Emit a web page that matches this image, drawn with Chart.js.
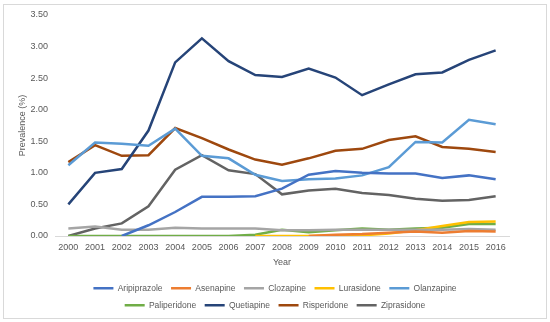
<!DOCTYPE html>
<html>
<head>
<meta charset="utf-8">
<script src="https://cdn.jsdelivr.net/npm/chart.js@4.4.1/dist/chart.umd.min.js"></script>
<style>
  html, body { margin: 0; padding: 0; background: #fff; }
  #wrap { position: relative; width: 550px; height: 322px; }
  #frame {
    position: absolute; left: 3px; top: 4px; width: 544px; height: 315px;
    border: 1px solid #d9d9d9; box-sizing: border-box; pointer-events: none;
  }
</style>
</head>
<body>
<div id="wrap">
  <canvas id="chart"></canvas>
  <div id="frame"></div>
</div>
<script>
const years = ["2000", "2001", "2002", "2003", "2004", "2005", "2006", "2007", "2008",
  "2009", "2010", "2011", "2012", "2013", "2014", "2015", "2016"];

// prevalence (%) per year, null = not on the market yet
const aripiprazole = [null, null, 0.00, 0.17, 0.38, 0.62, 0.62, 0.63, 0.75, 0.97, 1.03, 1.00, 0.99, 0.99, 0.92, 0.96, 0.90];
const asenapine = [null, null, null, null, null, null, null, null, null, 0.00, 0.02, 0.03, 0.05, 0.07, 0.05, 0.08, 0.07];
const clozapine = [0.12, 0.15, 0.10, 0.10, 0.13, 0.12, 0.12, 0.12, 0.09, 0.09, 0.10, 0.10, 0.10, 0.10, 0.10, 0.11, 0.10];
const lurasidone = [null, null, null, null, null, null, null, 0.00, 0.00, 0.00, 0.01, 0.01, 0.04, 0.09, 0.16, 0.22, 0.23];
const olanzapine = [1.12, 1.48, 1.46, 1.43, 1.70, 1.27, 1.23, 0.97, 0.87, 0.90, 0.91, 0.96, 1.09, 1.49, 1.48, 1.84, 1.77];
const paliperidone = [0.00, 0.00, 0.00, 0.00, 0.00, 0.00, 0.00, 0.02, 0.10, 0.06, 0.09, 0.12, 0.10, 0.12, 0.13, 0.19, 0.19];
const quetiapine = [0.50, 1.00, 1.06, 1.67, 2.75, 3.13, 2.77, 2.55, 2.52, 2.65, 2.51, 2.23, 2.40, 2.56, 2.59, 2.79, 2.94];
const risperidone = [1.17, 1.44, 1.27, 1.28, 1.71, 1.55, 1.37, 1.21, 1.13, 1.23, 1.35, 1.38, 1.52, 1.58, 1.41, 1.38, 1.33];
const ziprasidone = [0.00, 0.12, 0.20, 0.47, 1.05, 1.28, 1.04, 0.98, 0.66, 0.72, 0.75, 0.68, 0.65, 0.59, 0.56, 0.57, 0.63];

const series = [
  ["Aripiprazole", aripiprazole, "#4472c4"],
  ["Asenapine", asenapine, "#ed7d31"],
  ["Clozapine", clozapine, "#a5a5a5"],
  ["Lurasidone", lurasidone, "#ffc000"],
  ["Olanzapine", olanzapine, "#5b9bd5"],
  ["Paliperidone", paliperidone, "#70ad47"],
  ["Quetiapine", quetiapine, "#264478"],
  ["Risperidone", risperidone, "#9e480e"],
  ["Ziprasidone", ziprasidone, "#636363"],
];

const LEGEND_W = 400;
const LEGEND_MID = 275;
const textColor = "#595959";

Chart.defaults.font.family = '"Liberation Sans", Arial, sans-serif';
Chart.defaults.font.size = 9;
Chart.defaults.color = textColor;

// Excel-style legend: wrap rows inside a narrower band centred on the page
const narrowLegend = {
  id: "narrowLegend",
  afterInit(chart) {
    const lg = chart.legend;
    const fitRows = lg._fitRows;
    lg._fitRows = function (...args) {
      const full = this.maxWidth;
      this.maxWidth = LEGEND_W;
      const h = fitRows.apply(this, args);
      this.maxWidth = full;
      return h;
    };
  },
  afterLayout(chart) {
    const lg = chart.legend;
    lg.left = LEGEND_MID - LEGEND_W / 2;
    lg.right = LEGEND_MID + LEGEND_W / 2;
  },
};

new Chart(document.getElementById("chart"), {
  type: "line",
  data: {
    labels: years,
    datasets: series.map(([label, data, color]) => ({
      label,
      data,
      borderColor: color,
      backgroundColor: color,
      borderWidth: 2.5,
      pointRadius: 0,
      pointHoverRadius: 0,
      tension: 0,
    })),
  },
  options: {
    responsive: true,
    maintainAspectRatio: false,
    animation: false,
    layout: {
      padding: { left: 0, right: 41, top: 15, bottom: 2.5 },
    },
    plugins: {
      tooltip: { enabled: false },
      legend: {
        position: "bottom",
        labels: {
          usePointStyle: true,
          pointStyle: "line",
          pointStyleWidth: 20,
          padding: 8.5,
          color: textColor,
          font: { size: 8.5 },
        },
      },
    },
    scales: {
      x: {
        offset: true,
        grid: { display: false, drawTicks: false },
        border: { display: true, color: "#d9d9d9", width: 1 },
        ticks: { padding: 6, maxRotation: 0, autoSkip: false, color: textColor },
        title: {
          display: true,
          text: "Year",
          color: textColor,
          font: { size: 9 },
          padding: { top: 0, bottom: 8 },
        },
        afterFit(scale) {
          scale.height = 39.5;
        },
      },
      y: {
        min: 0,
        max: 3.5,
        grid: { display: false, drawTicks: false },
        border: { display: false },
        ticks: {
          stepSize: 0.5,
          padding: 7,
          color: textColor,
          callback: (v) => v.toFixed(2),
        },
        title: {
          display: true,
          text: "Prevalence (%)",
          color: textColor,
          font: { size: 9 },
          padding: { top: 17, bottom: 0 },
        },
        afterFit(scale) {
          scale.width = 55;
        },
      },
    },
  },
  plugins: [narrowLegend],
});
</script>
</body>
</html>
